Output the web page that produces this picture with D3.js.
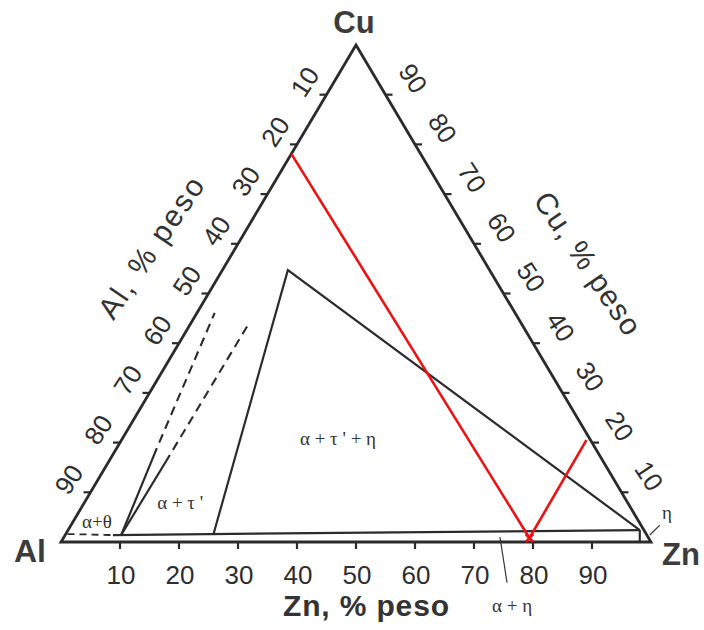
<!DOCTYPE html>
<html>
<head>
<meta charset="utf-8">
<script src="https://cdnjs.cloudflare.com/ajax/libs/d3/7.8.5/d3.min.js"></script>
<style>
  body { margin: 0; background: #fff; }
  svg { display: block; }
  .edge { fill: none; stroke: #2b2b2b; stroke-width: 2.8; stroke-linejoin: miter; }
  .phase { fill: none; stroke: #2b2b2b; stroke-width: 2.2; }
  .dash { fill: none; stroke: #2b2b2b; stroke-width: 2.1; stroke-dasharray: 0 6 9 0; }
  .dashThin { fill: none; stroke: #2b2b2b; stroke-width: 1.8; stroke-dasharray: 7 5; }
  .leader { fill: none; stroke: #333; stroke-width: 1.2; }
  .tick { stroke: #2b2b2b; stroke-width: 2.2; }
  .red { fill: none; stroke: #f01010; stroke-width: 2.6; }
  .num { font-family: "Liberation Sans", Arial, sans-serif; font-size: 26px; fill: #2e2e2e; }
  .title { font-family: "Liberation Sans", Arial, sans-serif; font-size: 30px; fill: #333; }
  .vertex { font-family: "Liberation Sans", Arial, sans-serif; font-weight: bold; fill: #3c3c3c; }
  .greek { font-family: "Liberation Serif", "DejaVu Serif", serif; font-size: 19px; fill: #333; }
</style>
</head>
<body>
<div id="chart"></div>
<script>
// compositions are written as [Zn %, Cu %]  (Al = 100 - Zn - Cu)
var tickValues = [10, 20, 30, 40, 50, 60, 70, 80, 90];

var alphaEtaBoundary = [[8.1, 1.4], [96.9, 2.4]];
var alphaThetaDashed = [[0.3, 1.6], [8.1, 1.4]];
var tieASolid = [[9.5, 1.4], [6.8, 18.9]];
var tieADashed = [[6.8, 18.9], [3.0, 46.1]];
var tieBSolid = [[9.5, 1.4], [9.7, 17.5]];
var tieBDashed = [[9.7, 17.5], [9.85, 43.5]];
var threePhase = [[25.1, 1.4], [11.1, 54.7], [96.9, 2.4]];
var etaCorner = [[96.9, 2.4], [98.1, 0]];

var redLineAl = [[0, 78.1], [79, 0.8]];
var redLineZn = [[79, 0.8], [78.8, 20.5]];
var redMark = [79, 0.8];

var leaderAlphaEta = [[73.9, 1.0], [79.7, -8.2]];
var leaderEta = [[99.1, 1.4], [99.8, 3.4]];

var phaseLabels = [
  {text: "α + τ ' + η", zn: 36.5, cu: 20.9},
  {text: "α + τ '", zn: 16.2, cu: 8.0},
  {text: "α+θ", zn: 4.0, cu: 4.2},
  {text: "η", zn: 99.7, cu: 6.0},
  {text: "α + η", zn: 82.8, cu: -12.7}
];

var width = 704, height = 630;

var x = d3.scaleLinear().domain([0, 100]).range([61, 651]);
var y = d3.scaleLinear().domain([0, 100]).range([542, 45]);

function pt(d) {
  return [x(d[0] + d[1] / 2), y(d[1])];
}

var line = d3.line()
  .x(function (d) { return pt(d)[0]; })
  .y(function (d) { return pt(d)[1]; });

var svg = d3.select("#chart").append("svg")
  .attr("width", width)
  .attr("height", height);

var Al = pt([0, 0]), Zn = pt([100, 0]), Cu = pt([0, 100]);

// phase boundaries
svg.append("path").datum(alphaEtaBoundary).attr("class", "phase").attr("d", line);
svg.append("path").datum(alphaThetaDashed).attr("class", "dashThin").attr("d", line);
svg.append("path").datum(tieASolid).attr("class", "phase").attr("d", line);
svg.append("path").datum(tieADashed).attr("class", "dash").attr("d", line);
svg.append("path").datum(tieBSolid).attr("class", "phase").attr("d", line);
svg.append("path").datum(tieBDashed).attr("class", "dash").attr("d", line);
svg.append("path").datum(threePhase).attr("class", "phase").attr("d", line);
svg.append("path").datum(etaCorner).attr("class", "phase").attr("d", line);
svg.append("path").datum(leaderAlphaEta).attr("class", "leader").attr("d", line);
svg.append("path").datum(leaderEta).attr("class", "leader").attr("d", line);

// triangle
svg.append("path")
  .datum([[0, 0], [100, 0], [0, 100]])
  .attr("class", "edge")
  .attr("d", function (d) { return line(d) + "Z"; });

// ticks
var tl = 7;
// bottom: Zn
svg.selectAll(".tickB").data(tickValues).enter().append("line")
  .attr("class", "tick")
  .attr("x1", function (d) { return pt([d, 0])[0]; })
  .attr("x2", function (d) { return pt([d, 0])[0]; })
  .attr("y1", function (d) { return pt([d, 0])[1]; })
  .attr("y2", function (d) { return pt([d, 0])[1] + tl; });
// left: Al
svg.selectAll(".tickL").data(tickValues).enter().append("line")
  .attr("class", "tick")
  .attr("x1", function (d) { return pt([0, 100 - d])[0]; })
  .attr("x2", function (d) { return pt([0, 100 - d])[0] - tl; })
  .attr("y1", function (d) { return pt([0, 100 - d])[1]; })
  .attr("y2", function (d) { return pt([0, 100 - d])[1]; });
// right: Cu
svg.selectAll(".tickR").data(tickValues).enter().append("line")
  .attr("class", "tick")
  .attr("x1", function (d) { return pt([100 - d, d])[0]; })
  .attr("x2", function (d) { return pt([100 - d, d])[0] + tl; })
  .attr("y1", function (d) { return pt([100 - d, d])[1]; })
  .attr("y2", function (d) { return pt([100 - d, d])[1]; });

// tick labels
var len = Math.hypot(Cu[0] - Al[0], Cu[1] - Al[1]);
var dirL = [(Cu[0] - Al[0]) / len, (Cu[1] - Al[1]) / len];
var nrmL = [dirL[1], -dirL[0]];
var dirR = [(Cu[0] - Zn[0]) / len, (Cu[1] - Zn[1]) / len];
var nrmR = [-dirR[1], dirR[0]];
var angL = Math.atan2(dirL[1], dirL[0]) * 180 / Math.PI + 2.5;
var angR = Math.atan2(-dirR[1], -dirR[0]) * 180 / Math.PI - 2.5;

svg.selectAll(".labB").data(tickValues).enter().append("text")
  .attr("class", "num")
  .attr("text-anchor", "middle")
  .attr("x", function (d) { return pt([d, 0])[0] + 1; })
  .attr("y", function (d) { return pt([d, 0])[1] + 42; })
  .text(function (d) { return d; });

svg.selectAll(".labL").data(tickValues).enter().append("text")
  .attr("class", "num")
  .attr("text-anchor", "middle")
  .attr("dominant-baseline", "central")
  .attr("transform", function (d) {
    var p = pt([0, 100 - d]);
    return "translate(" + (p[0] + nrmL[0] * 25) + "," + (p[1] + nrmL[1] * 25) + ") rotate(" + angL + ")";
  })
  .text(function (d) { return d; });

svg.selectAll(".labR").data(tickValues).enter().append("text")
  .attr("class", "num")
  .attr("text-anchor", "middle")
  .attr("dominant-baseline", "central")
  .attr("transform", function (d) {
    var p = pt([100 - d, d]);
    return "translate(" + (p[0] + nrmR[0] * 32) + "," + (p[1] + nrmR[1] * 32) + ") rotate(" + angR + ")";
  })
  .text(function (d) { return d; });

// axis titles
var midL = [(Al[0] + Cu[0]) / 2, (Al[1] + Cu[1]) / 2];
var midR = [(Zn[0] + Cu[0]) / 2, (Zn[1] + Cu[1]) / 2];

svg.append("text")
  .attr("class", "title")
  .attr("text-anchor", "middle")
  .attr("dominant-baseline", "central")
  .attr("textLength", 164)
  .attr("lengthAdjust", "spacing")
  .attr("transform", "translate(" + (midL[0] + nrmL[0] * 73 + dirL[0] * 10) + "," +
    (midL[1] + nrmL[1] * 73 + dirL[1] * 10) + ") rotate(" + (angL + 1) + ")")
  .text("Al, % peso");

svg.append("text")
  .attr("class", "title")
  .attr("text-anchor", "middle")
  .attr("dominant-baseline", "central")
  .attr("textLength", 166)
  .attr("lengthAdjust", "spacing")
  .attr("transform", "translate(" + (midR[0] + nrmR[0] * 88 - dirR[0] * 17) + "," +
    (midR[1] + nrmR[1] * 88 - dirR[1] * 17) + ") rotate(" + (angR - 1) + ")")
  .text("Cu, % peso");

svg.append("text")
  .attr("class", "title")
  .attr("text-anchor", "middle")
  .attr("font-weight", "bold")
  .attr("textLength", 166)
  .attr("lengthAdjust", "spacing")
  .attr("x", x(50) + 10)
  .attr("y", y(0) + 74)
  .text("Zn, % peso");

// vertex names
svg.append("text").attr("class", "vertex").attr("font-size", 32)
  .attr("text-anchor", "end").attr("x", Al[0] - 15).attr("y", Al[1] + 20).text("Al");
svg.append("text").attr("class", "vertex").attr("font-size", 31)
  .attr("text-anchor", "start").attr("x", Zn[0] + 11).attr("y", Zn[1] + 23).text("Zn");
svg.append("text").attr("class", "vertex").attr("font-size", 31)
  .attr("text-anchor", "middle").attr("x", Cu[0] - 2).attr("y", Cu[1] - 12).text("Cu");

// phase field labels
svg.selectAll(".greek").data(phaseLabels).enter().append("text")
  .attr("class", "greek")
  .attr("text-anchor", "middle")
  .attr("dominant-baseline", "central")
  .attr("x", function (d) { return pt([d.zn, d.cu])[0]; })
  .attr("y", function (d) { return pt([d.zn, d.cu])[1]; })
  .text(function (d) { return d.text; });

// red construction lines
svg.append("path").datum(redLineAl).attr("class", "red").attr("d", line);
svg.append("path").datum(redLineZn).attr("class", "red").attr("d", line);
svg.append("path")
  .attr("class", "red")
  .attr("stroke-width", 2)
  .attr("transform", "translate(" + pt(redMark)[0] + "," + pt(redMark)[1] + ")")
  .attr("d", d3.symbol().type(d3.symbolX).size(40)());
</script>
</body>
</html>
